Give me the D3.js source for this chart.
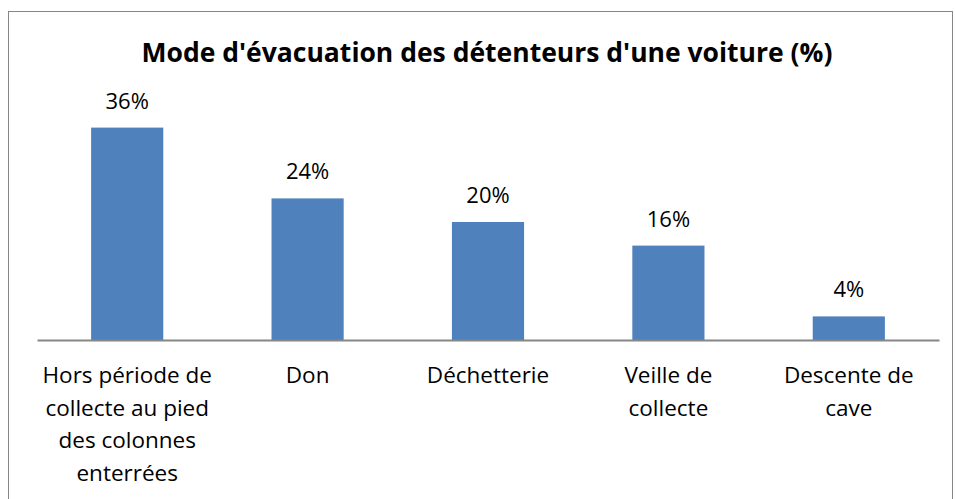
<!DOCTYPE html>
<html>
<head>
<meta charset="utf-8">
<script src="https://cdn.jsdelivr.net/npm/d3@7"></script>
<style>
  body { margin: 0; background: #fff; }
  svg text { font-family: "Open Sans", sans-serif; fill: #000; }
</style>
</head>
<body>
<svg id="chart"></svg>
<script>
// chart data
const categories = [
  ["Hors période de", "collecte au pied", "des colonnes", "enterrées"],
  ["Don"],
  ["Déchetterie"],
  ["Veille de", "collecte"],
  ["Descente de", "cave"]
];
const values = [36, 24, 20, 16, 4];
const title = "Mode d'évacuation des détenteurs d'une voiture (%)";

const width = 955, height = 499;
const margin = {top: 104, right: 16, bottom: 159, left: 37};
const innerW = width - margin.left - margin.right;
const innerH = height - margin.top - margin.bottom;

const svg = d3.select("#chart")
    .attr("width", width)
    .attr("height", height);

// outer frame
svg.append("rect")
    .attr("x", 8.5)
    .attr("y", 11.5)
    .attr("width", 944)
    .attr("height", 500)
    .attr("fill", "none")
    .attr("stroke", "#868686")
    .attr("stroke-width", 1);

svg.append("text")
    .attr("x", 487)
    .attr("y", 62)
    .attr("text-anchor", "middle")
    .attr("font-size", "26.5px")
    .attr("font-weight", "bold")
    .text(title);

const chart = svg.append("g")
    .attr("transform", `translate(${margin.left},${margin.top})`);

const xScale = d3.scaleBand()
    .domain(d3.range(values.length))
    .range([0, innerW])
    .paddingInner(0.6)
    .paddingOuter(0.3);

const yScale = d3.scaleLinear()
    .domain([0, 40])
    .range([innerH, 0]);

chart.selectAll(".bar")
    .data(values)
    .join("rect")
    .attr("class", "bar")
    .attr("x", (d, i) => xScale(i))
    .attr("y", d => yScale(d))
    .attr("width", xScale.bandwidth())
    .attr("height", d => innerH - yScale(d))
    .attr("fill", "#4F81BD");

chart.selectAll(".value")
    .data(values)
    .join("text")
    .attr("class", "value")
    .attr("x", (d, i) => xScale(i) + xScale.bandwidth() / 2)
    .attr("y", d => yScale(d) - 19)
    .attr("text-anchor", "middle")
    .attr("font-size", "22px")
    .text(d => d + "%");

// x axis, no ticks
const xAxis = d3.axisBottom(xScale).tickSize(0).tickFormat("");
const xAxisG = chart.append("g")
    .attr("transform", `translate(0,${innerH})`)
    .call(xAxis);
xAxisG.select(".domain")
    .attr("stroke", "#868686")
    .attr("stroke-width", 2);

const labels = chart.selectAll(".cat")
    .data(categories)
    .join("text")
    .attr("class", "cat")
    .attr("text-anchor", "middle")
    .attr("font-size", "22.5px")
    .attr("transform", (d, i) => `translate(${xScale(i) + xScale.bandwidth() / 2},${innerH + 43})`);

labels.selectAll("tspan")
    .data(d => d)
    .join("tspan")
    .attr("x", 0)
    .attr("y", (d, i) => i * 32.5)
    .text(d => d);
</script>
</body>
</html>
